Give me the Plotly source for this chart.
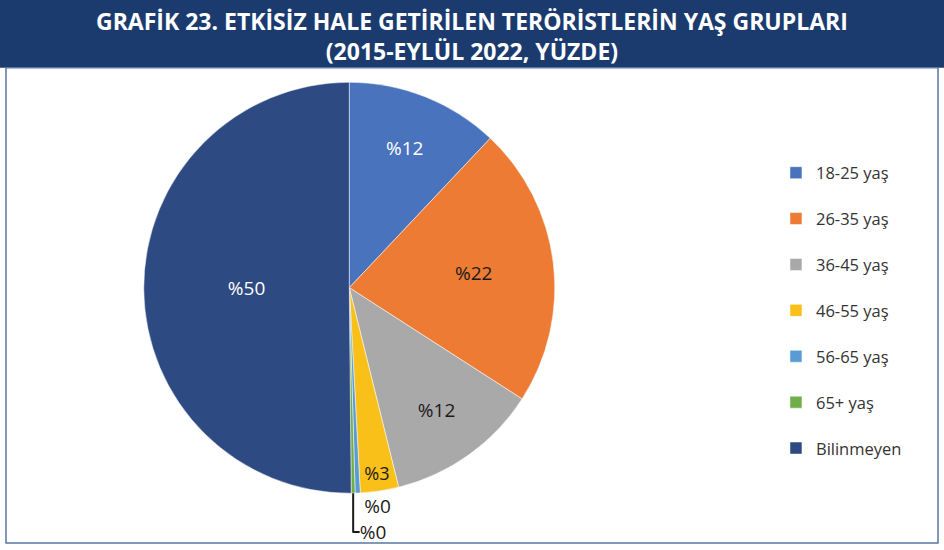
import plotly.graph_objects as go

categories = ["18-25 yaş", "26-35 yaş", "36-45 yaş", "46-55 yaş", "56-65 yaş", "65+ yaş", "Bilinmeyen"]
values = [12, 22, 12, 3, 0.4, 0.3, 50]
colors = ["#4A73BE", "#EE7B33", "#A9A9A9", "#F9C01A", "#5A9BD5", "#6FAE48", "#2E4A82"]
text_colors = ["white", "#1a1a1a", "#1a1a1a", "#1a1a1a", "#1a1a1a", "#1a1a1a", "white"]
positions = ["inside", "inside", "inside", "inside", "outside", "outside", "inside"]

title_text = ("GRAFİK 23. ETKİSİZ HALE GETİRİLEN TERÖRİSTLERİN YAŞ GRUPLARI"
              "<br>(2015-EYLÜL 2022, YÜZDE)")

# legend entries get an empty second line to reproduce the wide legend spacing
legend_labels = [c + "<br> " for c in categories]

fig = go.Figure(go.Pie(
    labels=legend_labels,
    values=values,
    sort=False,
    direction="clockwise",
    rotation=0,
    marker=dict(colors=colors, line=dict(color="white", width=0.5)),
    texttemplate="%%{value:.0f}",
    textposition=positions,
    insidetextorientation="horizontal",
    insidetextfont=dict(color=text_colors, size=19, family="Open Sans"),
    outsidetextfont=dict(color="#1a1a1a", size=19, family="Open Sans"),
    domain=dict(x=[0.14, 0.60], y=[0.10, 0.85]),
    customdata=categories,
    hovertemplate="%{customdata}: %{value}<extra></extra>",
))

fig.update_layout(
    width=944, height=550,
    margin=dict(l=0, r=0, t=0, b=0),
    paper_bgcolor="white",
    plot_bgcolor="white",
    legend=dict(x=0.822, xanchor="left", y=1 - 156 / 550, yanchor="top",
                valign="top",
                font=dict(family="Open Sans", size=16.5, color="#333333"),
                itemwidth=30),
    annotations=[
        dict(text=title_text, xref="paper", yref="paper", x=0.5, y=1 - 36 / 550,
             xanchor="center", yanchor="middle", showarrow=False,
             font=dict(family="Open Sans", size=23, color="white", weight="bold")),
    ],
    shapes=[
        dict(type="rect", xref="paper", yref="paper", x0=0, x1=1, y0=1 - 68 / 550, y1=1,
             fillcolor="#1B3B6F", line=dict(width=0), layer="below"),
        dict(type="rect", xref="paper", yref="paper", x0=6 / 944, x1=938 / 944,
             y0=1 - 545 / 550, y1=1 - 68 / 550,
             fillcolor="rgba(0,0,0,0)", line=dict(color="#5A78A8", width=1.5), layer="below"),
    ],
)

fig.write_html("out.html", config={"displayModeBar": False},
               post_script="document.body.style.margin='0';document.body.style.padding='0';")
